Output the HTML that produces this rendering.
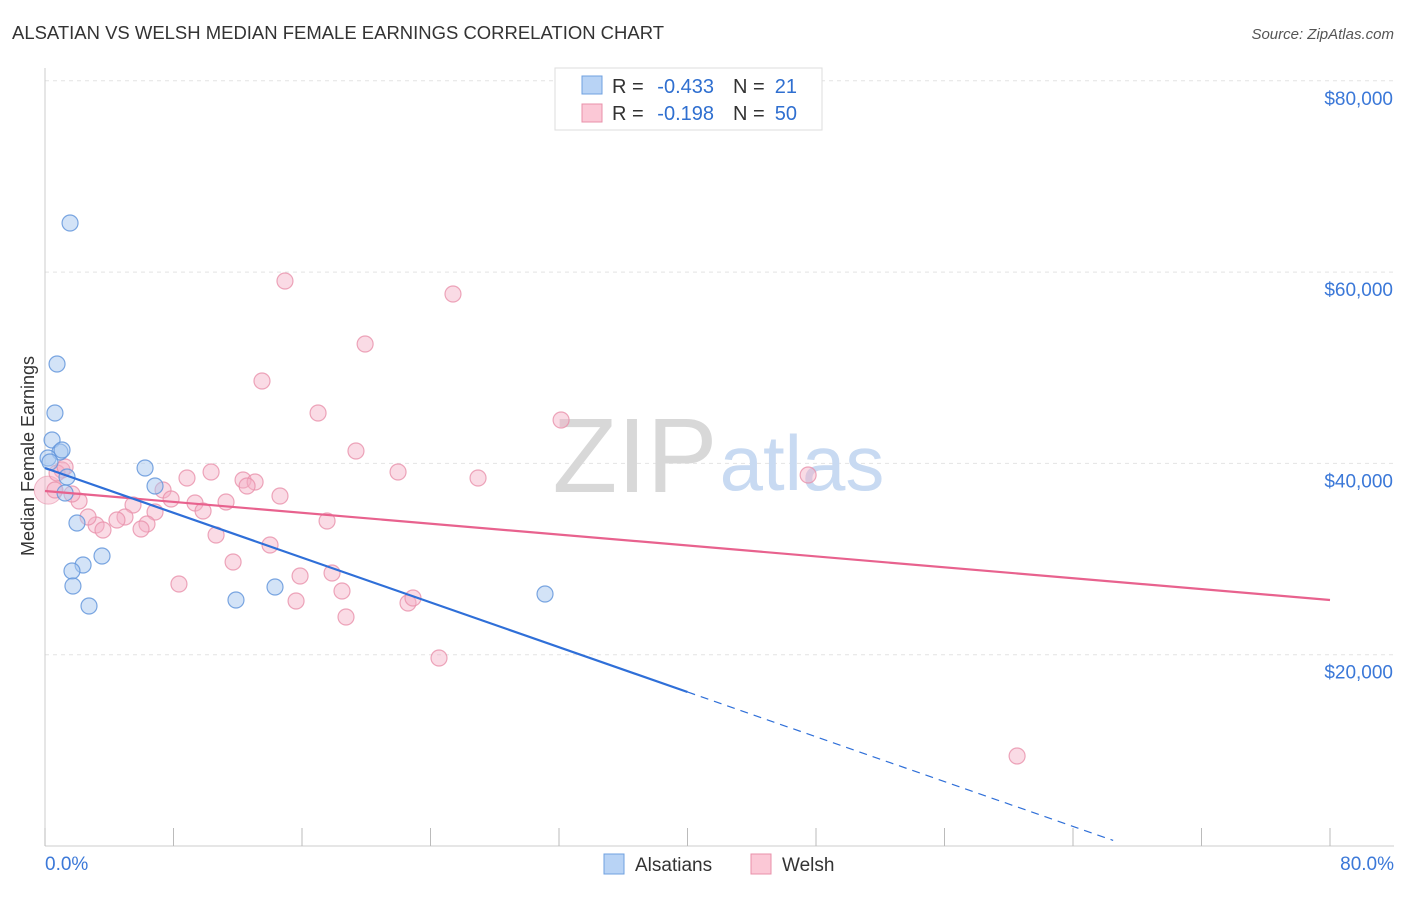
<!DOCTYPE html>
<html><head><meta charset="utf-8">
<style>
body{margin:0;background:#fff;font-family:"Liberation Sans",sans-serif;}
svg text{font-family:"Liberation Sans",sans-serif;}
</style></head>
<body>
<svg id="chart" width="1406" height="892" viewBox="0 0 1406 892" xmlns="http://www.w3.org/2000/svg">
<text x="12" y="39" font-size="18" fill="#333" textLength="652" lengthAdjust="spacingAndGlyphs">ALSATIAN VS WELSH MEDIAN FEMALE EARNINGS CORRELATION CHART</text>
<text x="1394" y="39" font-size="15" fill="#555" font-style="italic" text-anchor="end">Source: ZipAtlas.com</text>
<g id="grid"></g>
<g>
<text x="635" y="492" font-size="106" fill="#d8d8d8" font-family="Liberation Serif,serif" text-anchor="middle">ZIP</text>
<text x="802" y="490" font-size="78" fill="#c8daf2" text-anchor="middle">atlas</text>
</g>
<g id="axes"></g>
<g id="marks"></g>
<text transform="translate(34,456) rotate(-90)" font-size="18" fill="#333" text-anchor="middle">Median Female Earnings</text>
<g>
<rect x="555" y="68" width="267" height="62" fill="#fff" stroke="#ddd"/>
<rect x="582" y="76" width="20" height="18" fill="#b8d3f5" stroke="#6fa0e0"/>
<rect x="582" y="104" width="20" height="18" fill="#fbc8d6" stroke="#e890aa"/>
<text x="612" y="93" font-size="20" fill="#333">R =</text>
<text x="714" y="93" font-size="20" fill="#2f6fd0" text-anchor="end">-0.433</text>
<text x="733" y="93" font-size="20" fill="#333">N =</text>
<text x="797" y="93" font-size="20" fill="#2f6fd0" text-anchor="end">21</text>
<text x="612" y="120" font-size="20" fill="#333">R =</text>
<text x="714" y="120" font-size="20" fill="#2f6fd0" text-anchor="end">-0.198</text>
<text x="733" y="120" font-size="20" fill="#333">N =</text>
<text x="797" y="120" font-size="20" fill="#2f6fd0" text-anchor="end">50</text>
</g>
<g>
<rect x="604" y="854" width="20" height="20" fill="#b8d3f5" stroke="#6fa0e0"/>
<text x="635" y="871" font-size="19" fill="#333">Alsatians</text>
<rect x="751" y="854" width="20" height="20" fill="#fbc8d6" stroke="#e890aa"/>
<text x="782" y="871" font-size="19" fill="#333">Welsh</text>
</g>
</svg>
<script>
const yTicks=[20000,40000,60000,80000];
const yTickLabels=["$20,000","$40,000","$60,000","$80,000"];
const xTickLabels=["0.0%","80.0%"];
const blueX=[1.56,0.75,0.62,0.44,0.93,0.19,1.37,1.25,1.99,3.55,2.37,1.68,1.74,2.74,6.23,6.85,11.89,14.32,31.13,0.31,1.06];
const blueY=[65135,50393,45270,42447,41193,40565,38579,36906,33770,30320,29378,28751,27183,25092,39520,37638,25719,27078,26346,40147,41402];
const pinkX=[14.94,25.40,19.93,13.51,17.00,32.13,19.36,21.98,26.96,47.51,10.34,8.84,12.33,13.08,12.58,14.63,7.35,7.85,9.34,11.27,9.84,5.48,6.85,6.35,5.98,4.98,4.48,3.18,3.61,2.68,2.12,1.68,1.06,0.75,0.62,10.65,14.01,11.71,15.88,17.87,18.49,8.34,15.63,22.60,22.91,18.74,24.53,60.52,17.56,1.25];
const pinkY=[59071,57712,52484,48616,45270,44538,41297,39102,38474,38788,39102,38474,38265,38056,37638,36593,37220,36279,35861,35966,35025,35652,34920,33665,33143,34397,34083,33561,33038,34397,36070,36802,39311,38997,37220,32515,31470,29692,28228,28542,26660,27392,25615,25405,25928,23942,19655,9410,33979,39625];
const blueLine=[[0,39520],[40,16101]];
const blueDash=[[40,16101],[66.5,584]];
const pinkLine=[[0,37116],[80,25719]];
const NS="http://www.w3.org/2000/svg";
const sx=v=>45+v*16.0625;
const sy=v=>846-v*0.009565;
function mk(t,a,p){const e=document.createElementNS(NS,t);for(const k in a)e.setAttribute(k,a[k]);p.appendChild(e);return e;}
const grid=document.getElementById('grid'),axes=document.getElementById('axes'),marks=document.getElementById('marks');
yTicks.forEach((v,i)=>{
 const l=mk('line',{x1:45,x2:1394,y1:sy(v),y2:sy(v),stroke:'#e4e4e4','stroke-dasharray':'4,4'},grid);
 
 
 const t=mk('text',{x:1393,y:sy(v)+24,'font-size':19,fill:'#3b78d8','text-anchor':'end'},axes);
 t.textContent=yTickLabels[i];
 
 
});
mk('line',{x1:45,x2:45,y1:68,y2:846,stroke:'#ccc'},axes);
mk('line',{x1:45,x2:1394,y1:846,y2:846,stroke:'#ccc'},axes);
for(let i=0;i<=10;i++){const x=sx(i*8);const l=mk('line',{x1:x,x2:x,y1:828,y2:846,stroke:'#bbb'},axes);
 
 }
const xl0=mk('text',{x:45,y:870,'font-size':19,fill:'#3b78d8'},axes);xl0.textContent=xTickLabels[0];


const xl1=mk('text',{x:1394,y:870,'font-size':19,fill:'#3b78d8','text-anchor':'end'},axes);xl1.textContent=xTickLabels[1];


const blob=mk('circle',{cx:sx(0.2),cy:sy(37200),r:14,fill:'rgba(245,176,197,0.45)',stroke:'rgba(232,144,170,0.6)'},marks);


pinkX.forEach((x,i)=>{const c=mk('circle',{cx:sx(x),cy:sy(pinkY[i]),r:8,fill:'rgba(245,176,197,0.45)',stroke:'rgba(232,144,170,0.8)','stroke-width':1.2},marks);
 
 });
blueX.forEach((x,i)=>{const c=mk('circle',{cx:sx(x),cy:sy(blueY[i]),r:8,fill:'rgba(168,200,240,0.5)',stroke:'rgba(100,150,220,0.85)','stroke-width':1.2},marks);
 
 });
const pl=mk('line',{x1:sx(pinkLine[0][0]),y1:sy(pinkLine[0][1]),x2:sx(pinkLine[1][0]),y2:sy(pinkLine[1][1]),stroke:'#e8628e','stroke-width':2.2},marks);


const bl=mk('line',{x1:sx(blueLine[0][0]),y1:sy(blueLine[0][1]),x2:sx(blueLine[1][0]),y2:sy(blueLine[1][1]),stroke:'#2f6fd8','stroke-width':2.2},marks);


const bd=mk('line',{x1:sx(blueDash[0][0]),y1:sy(blueDash[0][1]),x2:sx(blueDash[1][0]),y2:sy(blueDash[1][1]),stroke:'#2f6fd8','stroke-width':1.2,'stroke-dasharray':'8,6'},marks);


</script>
</body></html>
